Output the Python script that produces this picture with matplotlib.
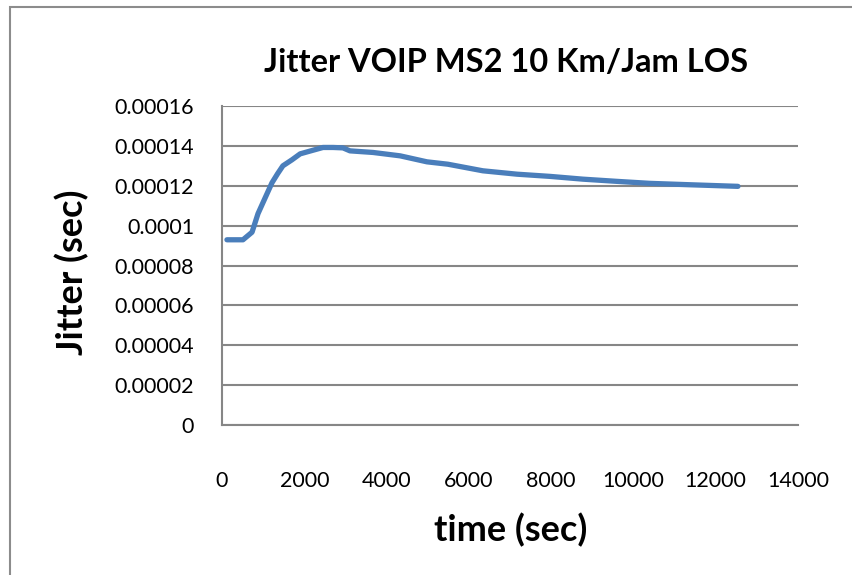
import matplotlib
matplotlib.use("Agg")
import matplotlib.pyplot as plt
from matplotlib.patches import Rectangle

# values
time_s = [120, 300, 510, 730, 875, 1050, 1215, 1350, 1480, 1700, 1900, 2210, 2455, 2700, 2940,
          3110, 3670, 4330, 4980, 5490, 6340, 7170, 7970, 8775, 9600, 10400, 11380, 12540]
jitter_s = [0.0000929, 0.0000929, 0.0000929, 0.0000967, 0.000106, 0.000114, 0.0001215, 0.000126,
            0.00013, 0.000133, 0.000136, 0.0001378, 0.0001392, 0.0001392, 0.000139,
            0.0001375, 0.0001367, 0.000135, 0.000132, 0.0001308, 0.0001275, 0.0001258,
            0.0001247, 0.0001233, 0.0001222, 0.0001212, 0.0001205, 0.0001197]

x_ticks = [0, 2000, 4000, 6000, 8000, 10000, 12000, 14000]
y_ticks = [0, 0.00002, 0.00004, 0.00006, 0.00008, 0.0001, 0.00012, 0.00014, 0.00016]
y_labels = ["0", "0.00002", "0.00004", "0.00006", "0.00008", "0.0001",
            "0.00012", "0.00014", "0.00016"]

plt.rcParams['font.family'] = ['Lato', 'DejaVu Sans']

W, H = 852, 575
fig = plt.figure(figsize=(W / 100, H / 100), dpi=100)

# outer chart border
fig.patches.append(Rectangle((10 / W, -0.1), 1.2, 1 - 7 / H + 0.1, transform=fig.transFigure,
                             fill=False, edgecolor='#8c8c8c', linewidth=1.5))

ax = fig.add_axes([222 / W, 150 / H, 576 / W, 319 / H])
ax.plot(time_s, jitter_s, color='#4a7ebb', linewidth=3.8, solid_capstyle='round')

ax.set_xlim(0, 14000)
ax.set_ylim(0, 0.00016)
ax.set_xticks(x_ticks)
ax.set_xticklabels([str(t) for t in x_ticks])
ax.set_yticks(y_ticks)
ax.set_yticklabels(y_labels)
ax.tick_params(axis='both', length=0, labelsize=15.5, colors='black')
ax.tick_params(axis='x', pad=33)
ax.tick_params(axis='y', pad=20)
ax.grid(axis='y', color='#868686', linewidth=1.5)
ax.set_axisbelow(True)
for side in ['top', 'right']:
    ax.spines[side].set_visible(False)
for side in ['left', 'bottom']:
    ax.spines[side].set_color('#868686')
    ax.spines[side].set_linewidth(1.5)

fig.text(506 / W, 1 - 62 / H, "Jitter VOIP MS2 10 Km/Jam LOS", ha='center', va='center',
         fontsize=23.5, fontweight='bold')
fig.text(511 / W, 1 - 530 / H, "time (sec)", ha='center', va='center',
         fontsize=26, fontweight='bold')
fig.text(72 / W, 1 - 272 / H, "Jitter (sec)", ha='center', va='center', rotation=90,
         fontsize=26, fontweight='bold')

fig.savefig("out.png", dpi=100)
